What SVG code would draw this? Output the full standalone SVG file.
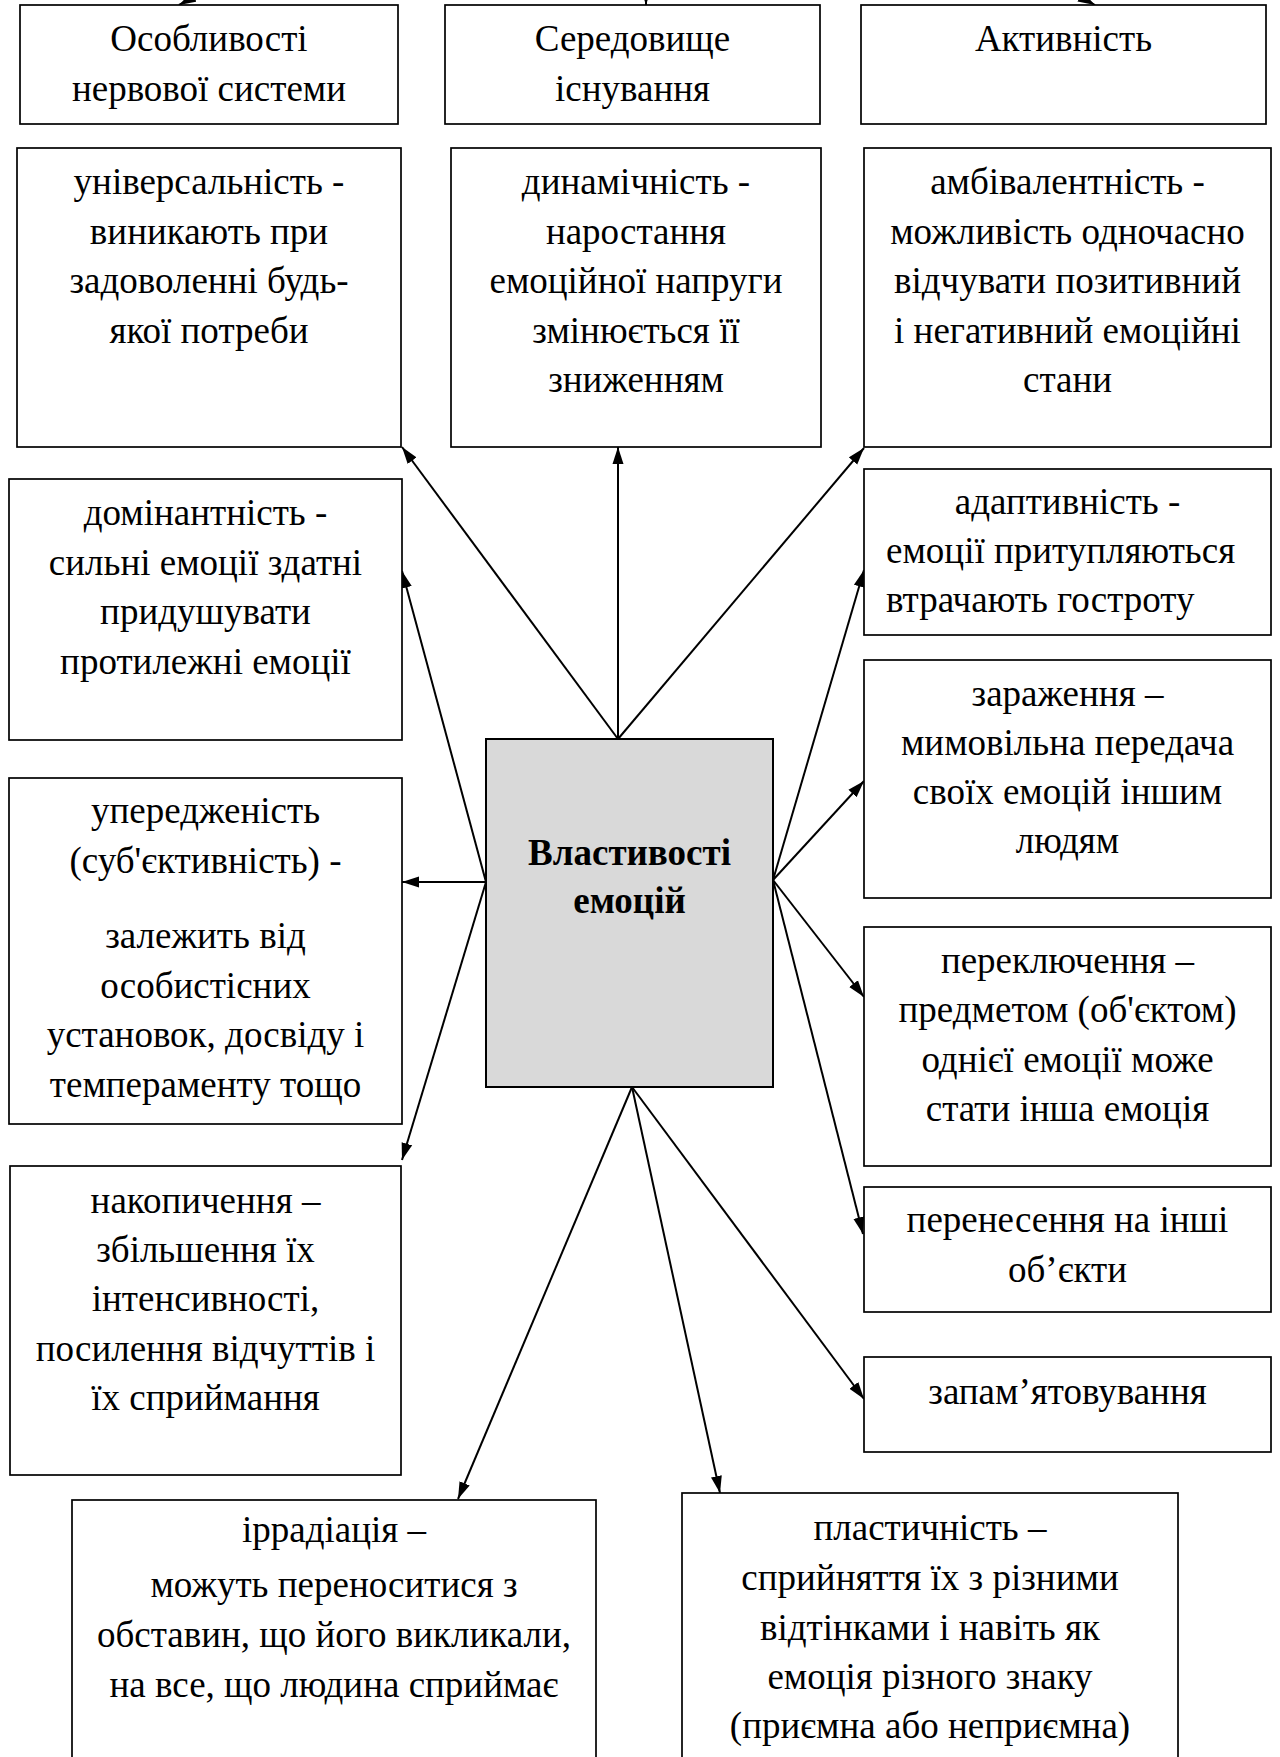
<svg xmlns="http://www.w3.org/2000/svg" width="1280" height="1757" viewBox="0 0 1280 1757">
<style>
.box{fill:#fff;stroke:#000;stroke-width:1.7}
.center{fill:#d9d9d9;stroke:#000;stroke-width:2}
.t{font-family:"Liberation Serif","Times New Roman",serif;font-size:37px;text-anchor:middle;fill:#000}
.l{text-anchor:start}
.b{font-weight:bold}
.conn line{stroke:#000;stroke-width:2;marker-end:url(#ah)}
</style>
<defs>
<marker id="ah" markerUnits="userSpaceOnUse" markerWidth="18" markerHeight="12" refX="17" refY="6" orient="auto">
<path d="M0,0.5 L17,6 L0,11.5 z" fill="#000"/>
</marker>
</defs>
<rect width="1280" height="1757" fill="#fff"/>

<g id="connectors" class="conn">
<line x1="225" y1="-20" x2="179" y2="5"/>
<line x1="646" y1="-20" x2="646" y2="5"/>
<line x1="1050" y1="-20" x2="1095" y2="5"/>
<line x1="618" y1="739" x2="402" y2="447"/>
<line x1="618" y1="739" x2="618" y2="447"/>
<line x1="618" y1="739" x2="864" y2="448"/>
<line x1="486" y1="882" x2="402" y2="571"/>
<line x1="486" y1="882" x2="402" y2="882"/>
<line x1="486" y1="882" x2="402" y2="1160"/>
<line x1="773" y1="880" x2="864" y2="570"/>
<line x1="773" y1="880" x2="864" y2="781"/>
<line x1="773" y1="880" x2="864" y2="997"/>
<line x1="773" y1="880" x2="863" y2="1234"/>
<line x1="632" y1="1087" x2="458" y2="1499"/>
<line x1="632" y1="1087" x2="720" y2="1493"/>
<line x1="632" y1="1087" x2="864" y2="1399"/>
</g>

<g id="n-nerv">
<rect class="box" x="20" y="5" width="378" height="119"/>
<text class="t" x="209" y="51">Особливості</text>
<text class="t" x="209" y="101">нервової системи</text>
</g>
<g id="n-sered">
<rect class="box" x="445" y="5" width="375" height="119"/>
<text class="t" x="632.5" y="51">Середовище</text>
<text class="t" x="632.5" y="101">існування</text>
</g>
<g id="n-aktyv">
<rect class="box" x="861" y="5" width="405" height="119"/>
<text class="t" x="1063.5" y="51">Активність</text>
</g>

<g id="n-univ">
<rect class="box" x="17" y="148" width="384" height="299"/>
<text class="t" x="209" y="194">універсальність -</text>
<text class="t" x="209" y="243.5">виникають при</text>
<text class="t" x="209" y="293">задоволенні будь-</text>
<text class="t" x="209" y="342.5">якої потреби</text>
</g>
<g id="n-dynam">
<rect class="box" x="451" y="148" width="370" height="299"/>
<text class="t" x="636" y="194">динамічність -</text>
<text class="t" x="636" y="243.5">наростання</text>
<text class="t" x="636" y="293">емоційної напруги</text>
<text class="t" x="636" y="342.5">змінюється її</text>
<text class="t" x="636" y="392">зниженням</text>
</g>
<g id="n-ambiv">
<rect class="box" x="864" y="148" width="407" height="299"/>
<text class="t" x="1067.5" y="194">амбівалентність -</text>
<text class="t" x="1067.5" y="243.5">можливість одночасно</text>
<text class="t" x="1067.5" y="293">відчувати позитивний</text>
<text class="t" x="1067.5" y="342.5">і негативний емоційні</text>
<text class="t" x="1067.5" y="392">стани</text>
</g>

<g id="n-domin">
<rect class="box" x="9" y="479" width="393" height="261"/>
<text class="t" x="205.5" y="525">домінантність -</text>
<text class="t" x="205.5" y="574.5">сильні емоції здатні</text>
<text class="t" x="205.5" y="624">придушувати</text>
<text class="t" x="205.5" y="673.5">протилежні емоції</text>
</g>
<g id="n-uperedzh">
<rect class="box" x="9" y="778" width="393" height="346"/>
<text class="t" x="205.5" y="823">упередженість</text>
<text class="t" x="205.5" y="872.5">(суб'єктивність) -</text>
<text class="t" x="205.5" y="948">залежить від</text>
<text class="t" x="205.5" y="997.5">особистісних</text>
<text class="t" x="205.5" y="1047">установок, досвіду і</text>
<text class="t" x="205.5" y="1096.5">темпераменту тощо</text>
</g>
<g id="n-nakop">
<rect class="box" x="10" y="1166" width="391" height="309"/>
<text class="t" x="205.5" y="1212.5">накопичення –</text>
<text class="t" x="205.5" y="1262">збільшення їх</text>
<text class="t" x="205.5" y="1311">інтенсивності,</text>
<text class="t" x="205.5" y="1360.5">посилення відчуттів і</text>
<text class="t" x="205.5" y="1410">їх сприймання</text>
</g>

<g id="n-center">
<rect class="center" x="486" y="739" width="287" height="348"/>
<text class="t b" x="629.5" y="865">Властивості</text>
<text class="t b" x="629.5" y="913">емоцій</text>
</g>

<g id="n-adapt">
<rect class="box" x="864" y="469" width="407" height="166"/>
<text class="t" x="1067.5" y="514">адаптивність -</text>
<text class="t l" x="886" y="563">емоції притупляються</text>
<text class="t l" x="886" y="612">втрачають гостроту</text>
</g>
<g id="n-zarazh">
<rect class="box" x="864" y="660" width="407" height="238"/>
<text class="t" x="1067.5" y="706">зараження –</text>
<text class="t" x="1067.5" y="754.5">мимовільна передача</text>
<text class="t" x="1067.5" y="804">своїх емоцій іншим</text>
<text class="t" x="1067.5" y="853">людям</text>
</g>
<g id="n-perekl">
<rect class="box" x="864" y="927" width="407" height="239"/>
<text class="t" x="1067.5" y="973">переключення –</text>
<text class="t" x="1067.5" y="1022">предметом (об'єктом)</text>
<text class="t" x="1067.5" y="1071.5">однієї емоції може</text>
<text class="t" x="1067.5" y="1121">стати інша емоція</text>
</g>
<g id="n-perenes">
<rect class="box" x="864" y="1187" width="407" height="125"/>
<text class="t" x="1067.5" y="1232">перенесення на інші</text>
<text class="t" x="1067.5" y="1282">об’єкти</text>
</g>
<g id="n-zapam">
<rect class="box" x="864" y="1357" width="407" height="95"/>
<text class="t" x="1067.5" y="1403.5">запам’ятовування</text>
</g>

<g id="n-irrad">
<rect class="box" x="72" y="1500" width="524" height="280"/>
<text class="t" x="334" y="1542">іррадіація –</text>
<text class="t" x="334" y="1597">можуть переноситися з</text>
<text class="t" x="334" y="1647">обставин, що його викликали,</text>
<text class="t" x="334" y="1697">на все, що людина сприймає</text>
</g>
<g id="n-plast">
<rect class="box" x="682" y="1493" width="496" height="287"/>
<text class="t" x="930" y="1539.5">пластичність –</text>
<text class="t" x="930" y="1590">сприйняття їх з різними</text>
<text class="t" x="930" y="1640">відтінками і навіть як</text>
<text class="t" x="930" y="1689">емоція різного знаку</text>
<text class="t" x="930" y="1738">(приємна або неприємна)</text>
</g>
</svg>
